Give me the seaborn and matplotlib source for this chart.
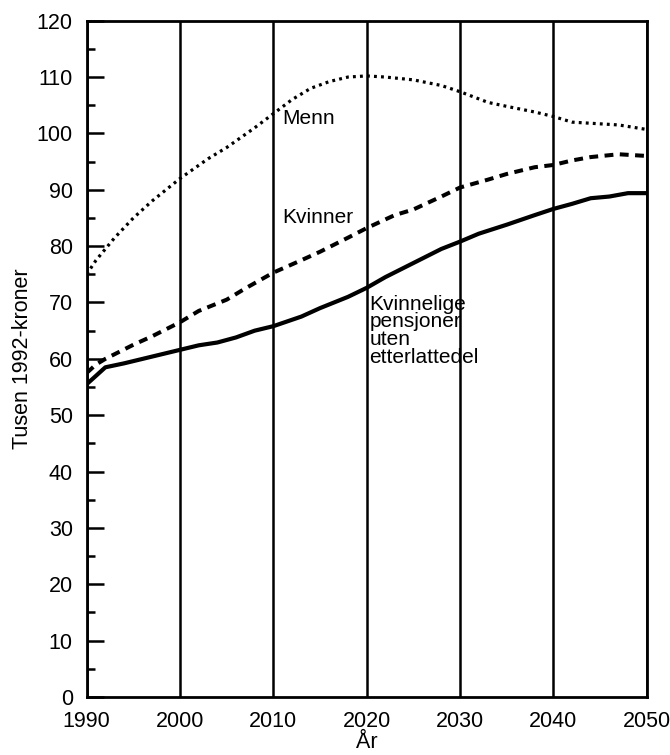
import matplotlib
matplotlib.use("Agg")
import matplotlib.pyplot as plt
import seaborn as sns
import pandas as pd
from matplotlib.ticker import MultipleLocator

# Data (thousand 1992-NOK)
menn_years = [1990, 1991, 1992, 1993, 1995, 1997, 2000, 2003, 2005, 2008, 2010,
              2012, 2014, 2016, 2018, 2020, 2022, 2025, 2028, 2030, 2033, 2035,
              2038, 2040, 2042, 2045, 2047, 2050]
menn_values = [75.0, 77.5, 79.5, 81.5, 85.0, 88.0, 92.0, 95.5, 97.5, 101.0, 103.5,
               106.0, 108.0, 109.2, 110.0, 110.2, 110.0, 109.5, 108.5, 107.4, 105.5, 104.8,
               103.8, 103.0, 102.0, 101.7, 101.5, 100.7]

kvinner_years = [1990, 1991, 1992, 1995, 1997, 2000, 2002, 2005, 2007, 2010, 2013,
                 2015, 2018, 2020, 2023, 2025, 2028, 2030, 2033, 2035, 2038, 2040,
                 2042, 2044, 2047, 2050]
kvinner_values = [57.5, 59.0, 60.0, 62.5, 64.0, 66.5, 68.5, 70.5, 72.5, 75.3, 77.5,
                  79.0, 81.5, 83.2, 85.5, 86.5, 88.8, 90.4, 91.8, 92.8, 94.0, 94.4,
                  95.2, 95.8, 96.3, 96.0]

uten_years = [1990, 1991, 1992, 1994, 1996, 1998, 2000, 2002, 2004, 2006, 2008,
              2010, 2013, 2015, 2018, 2020, 2022, 2025, 2028, 2030, 2032, 2035,
              2038, 2040, 2042, 2044, 2046, 2048, 2050]
uten_values = [55.5, 57.0, 58.5, 59.2, 60.0, 60.8, 61.6, 62.4, 62.9, 63.8, 65.0,
               65.8, 67.5, 69.0, 71.0, 72.6, 74.5, 77.0, 79.5, 80.8, 82.2, 83.8,
               85.5, 86.6, 87.5, 88.5, 88.8, 89.4, 89.4]

x_ticks = [1990, 2000, 2010, 2020, 2030, 2040, 2050]
y_ticks = [0, 10, 20, 30, 40, 50, 60, 70, 80, 90, 100, 110, 120]

sns.set_style("ticks")
plt.rcParams['font.family'] = ['Liberation Sans', 'DejaVu Sans']
plt.rcParams['text.color'] = 'black'
plt.rcParams['axes.labelcolor'] = 'black'

fig = plt.figure(figsize=(6.7, 7.55), dpi=100)
ax = fig.add_axes([0.1294, 0.0768, 0.8358, 0.8958])

df_m = pd.DataFrame({"År": menn_years, "v": menn_values})
df_k = pd.DataFrame({"År": kvinner_years, "v": kvinner_values})
df_u = pd.DataFrame({"År": uten_years, "v": uten_values})

sns.lineplot(data=df_m, x="År", y="v", ax=ax, color="black", lw=2.3,
             linestyle=(0, (0.9, 1.3)), zorder=3)
sns.lineplot(data=df_k, x="År", y="v", ax=ax, color="black", lw=2.9,
             linestyle=(0, (2.2, 1.6)), zorder=3)
sns.lineplot(data=df_u, x="År", y="v", ax=ax, color="black", lw=3.0,
             linestyle="-", zorder=3)

ax.set_xlim(1990, 2050)
ax.set_ylim(0, 120)
ax.set_xticks(x_ticks)
ax.set_yticks(y_ticks)
ax.yaxis.set_minor_locator(MultipleLocator(5))
ax.tick_params(axis='x', length=0, labelsize=15.5, pad=10, colors='black')
ax.tick_params(axis='y', which='major', direction='in', length=12, width=1.8,
               labelsize=15.5, pad=10, colors='black')
ax.tick_params(axis='y', which='minor', direction='in', length=6, width=1.8,
               colors='black')
ax.xaxis.grid(True, color='black', lw=1.8)
for s in ax.spines.values():
    s.set_visible(True)
    s.set_linewidth(2)
    s.set_color('black')

ax.set_xlabel("År", fontsize=15.5, labelpad=0, color='black')
ax.set_ylabel("Tusen 1992-kroner", fontsize=15.5, labelpad=3, color='black')

ax.text(2010.9, 102.6, "Menn", fontsize=15, va='center', ha='left', color='black')
ax.text(2010.9, 85.0, "Kvinner", fontsize=15, va='center', ha='left', color='black')
ax.text(2020.3, 71.4, "Kvinnelige\npensjoner\nuten\netterlattedel", fontsize=15,
        va='top', ha='left', linespacing=0.92, color='black')

fig.savefig("out.png", dpi=100)
